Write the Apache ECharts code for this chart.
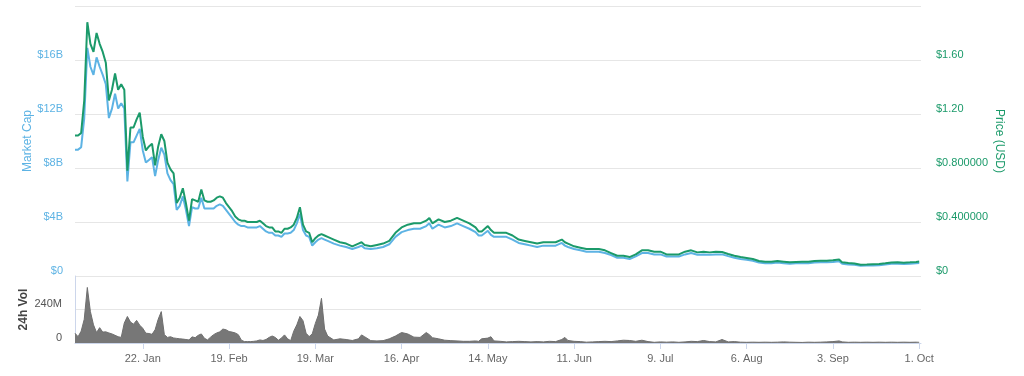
<!DOCTYPE html>
<html>
<head>
<meta charset="utf-8">
<script src="https://cdn.jsdelivr.net/npm/echarts@6/dist/echarts.min.js"></script>
<style>
  html, body { margin: 0; padding: 0; background: #fff; }
  #chart { width: 1024px; height: 376px; }
</style>
</head>
<body>
<div id="chart"></div>
<script>
// dates of the samples (daily at first, then every other day)
const dates = [
  '2017-12-31','2018-01-01','2018-01-02','2018-01-03','2018-01-04','2018-01-05','2018-01-06','2018-01-07','2018-01-08','2018-01-09','2018-01-10','2018-01-11','2018-01-12','2018-01-13','2018-01-14','2018-01-15','2018-01-16','2018-01-17','2018-01-18','2018-01-19','2018-01-20','2018-01-21','2018-01-22','2018-01-23','2018-01-24','2018-01-25','2018-01-26','2018-01-27','2018-01-28','2018-01-29','2018-01-30','2018-01-31',
  '2018-02-01','2018-02-02','2018-02-03','2018-02-04','2018-02-05','2018-02-06','2018-02-07','2018-02-08','2018-02-09','2018-02-10','2018-02-11','2018-02-12','2018-02-13','2018-02-14','2018-02-15','2018-02-16','2018-02-17','2018-02-18','2018-02-19','2018-02-20','2018-02-21','2018-02-22','2018-02-23','2018-02-24','2018-02-25','2018-02-26','2018-02-27','2018-02-28',
  '2018-03-01','2018-03-02','2018-03-03','2018-03-04','2018-03-05','2018-03-06','2018-03-07','2018-03-08','2018-03-09','2018-03-10','2018-03-11','2018-03-12','2018-03-13','2018-03-14','2018-03-15','2018-03-16','2018-03-17','2018-03-18','2018-03-19','2018-03-20','2018-03-21','2018-03-22','2018-03-23','2018-03-25','2018-03-27','2018-03-29','2018-03-31',
  '2018-04-02','2018-04-03','2018-04-04','2018-04-06','2018-04-08','2018-04-10','2018-04-12','2018-04-14','2018-04-16','2018-04-18','2018-04-20','2018-04-22','2018-04-24','2018-04-25','2018-04-26','2018-04-28','2018-04-30',
  '2018-05-02','2018-05-04','2018-05-06','2018-05-08','2018-05-10','2018-05-11','2018-05-12','2018-05-14','2018-05-15','2018-05-16','2018-05-18','2018-05-20','2018-05-22','2018-05-24','2018-05-26','2018-05-28','2018-05-30',
  '2018-06-01','2018-06-03','2018-06-05','2018-06-07','2018-06-08','2018-06-09','2018-06-11','2018-06-13','2018-06-15','2018-06-17','2018-06-19','2018-06-21','2018-06-23','2018-06-25','2018-06-27','2018-06-29',
  '2018-07-01','2018-07-03','2018-07-05','2018-07-07','2018-07-09','2018-07-11','2018-07-13','2018-07-15','2018-07-17','2018-07-19','2018-07-21','2018-07-23','2018-07-25','2018-07-27','2018-07-29','2018-07-31',
  '2018-08-02','2018-08-04','2018-08-06','2018-08-08','2018-08-10','2018-08-12','2018-08-14','2018-08-16','2018-08-18','2018-08-20','2018-08-22','2018-08-24','2018-08-26','2018-08-28','2018-08-30',
  '2018-09-01','2018-09-03','2018-09-05','2018-09-06','2018-09-08','2018-09-10','2018-09-12','2018-09-14','2018-09-16','2018-09-18','2018-09-20','2018-09-22','2018-09-24','2018-09-26','2018-09-28','2018-09-30',
  '2018-10-01'
];

// price in USD
const price = [
  1.04,1.04,1.06,1.30,1.88,1.72,1.66,1.80,1.72,1.66,1.58,1.30,1.38,1.50,1.38,1.42,1.38,0.78,1.10,1.10,1.16,1.21,1.03,0.93,0.96,0.98,0.82,0.96,1.05,1.00,0.84,0.79,
  0.76,0.54,0.58,0.65,0.54,0.41,0.57,0.56,0.55,0.64,0.56,0.55,0.55,0.56,0.58,0.59,0.58,0.54,0.51,0.48,0.44,0.42,0.41,0.41,0.40,0.40,0.40,0.40,
  0.41,0.39,0.37,0.36,0.36,0.33,0.33,0.32,0.35,0.35,0.36,0.38,0.43,0.51,0.38,0.33,0.32,0.25,0.28,0.30,0.31,0.30,0.29,0.27,0.25,0.24,0.22,
  0.24,0.25,0.23,0.22,0.23,0.24,0.26,0.32,0.36,0.38,0.39,0.39,0.41,0.43,0.39,0.42,0.40,
  0.41,0.43,0.41,0.39,0.36,0.33,0.33,0.37,0.34,0.32,0.32,0.32,0.30,0.27,0.26,0.25,0.24,
  0.25,0.25,0.25,0.27,0.25,0.24,0.22,0.21,0.20,0.20,0.20,0.19,0.17,0.15,0.15,0.14,
  0.16,0.19,0.19,0.18,0.18,0.16,0.16,0.16,0.18,0.19,0.175,0.18,0.175,0.18,0.178,0.163,
  0.15,0.14,0.133,0.126,0.111,0.106,0.106,0.111,0.106,0.101,0.104,0.106,0.106,0.111,0.113,
  0.113,0.116,0.122,0.101,0.096,0.093,0.084,0.085,0.087,0.089,0.094,0.100,0.101,0.099,0.101,0.104,
  0.107
];

// market cap in billions USD
const marketCap = [
  9.36,9.36,9.54,11.7,16.9,15.5,14.9,16.2,15.5,14.9,14.2,11.7,12.4,13.5,12.4,12.8,12.4,7.0,9.9,9.9,10.4,10.9,9.3,8.4,8.6,8.8,7.4,8.6,9.5,9.0,7.6,7.1,
  6.8,4.9,5.2,5.9,4.9,3.7,5.1,5.0,5.0,5.8,5.0,5.0,5.0,5.0,5.2,5.3,5.2,4.9,4.6,4.3,4.0,3.8,3.7,3.7,3.6,3.6,3.6,3.6,
  3.7,3.5,3.3,3.2,3.2,3.0,3.0,2.9,3.15,3.15,3.2,3.4,3.9,4.6,3.4,3.0,2.9,2.25,2.5,2.7,2.8,2.7,2.6,2.4,2.25,2.15,2.0,
  2.15,2.25,2.05,2.0,2.05,2.15,2.35,2.9,3.25,3.4,3.5,3.5,3.7,3.9,3.5,3.8,3.6,
  3.7,3.9,3.7,3.5,3.25,3.0,3.0,3.35,3.05,2.9,2.9,2.9,2.7,2.45,2.35,2.25,2.15,
  2.25,2.25,2.25,2.45,2.25,2.15,2.0,1.9,1.8,1.8,1.8,1.7,1.55,1.35,1.35,1.25,
  1.45,1.7,1.7,1.6,1.6,1.45,1.45,1.45,1.6,1.7,1.58,1.6,1.58,1.6,1.6,1.47,
  1.35,1.26,1.2,1.13,1.0,0.95,0.95,1.0,0.95,0.91,0.94,0.95,0.95,1.0,1.02,
  1.02,1.04,1.1,0.91,0.86,0.84,0.76,0.77,0.78,0.8,0.85,0.9,0.91,0.89,0.91,0.94,
  0.96
];

// 24h volume in millions USD
const volume = [
  70,45,85,170,398,225,130,75,110,78,80,72,65,55,45,40,143,190,150,135,162,128,105,70,68,62,95,170,225,60,40,45,
  36,33,30,28,25,22,44,38,55,65,34,22,42,60,72,80,100,95,82,78,72,60,20,10,10,10,12,15,
  22,18,25,40,50,40,20,35,58,30,17,85,130,190,160,70,46,65,140,200,320,100,50,22,30,25,18,
  30,58,45,17,15,17,30,50,75,65,42,40,75,60,38,30,20,
  17,15,12,12,15,12,30,35,45,15,12,8,10,12,10,8,10,
  8,12,10,25,40,18,12,10,6,8,10,12,10,15,20,18,
  12,20,10,5,8,6,8,5,8,12,10,18,10,8,25,8,
  10,6,5,6,5,6,5,6,8,6,5,4,6,5,6,
  8,10,15,8,5,6,5,6,5,6,5,6,5,6,5,6,
  5
];

// x axis ticks
const tickDates = ['2018-01-22','2018-02-19','2018-03-19','2018-04-16','2018-05-14','2018-06-11','2018-07-09','2018-08-06','2018-09-03','2018-10-01'];
const tickLabels = ['22. Jan','19. Feb','19. Mar','16. Apr','14. May','11. Jun','9. Jul','6. Aug','3. Sep','1. Oct'];

// y axis tick labels
const capTicks = [0, 4, 8, 12, 16];
const capTickLabels = ['$0', '$4B', '$8B', '$12B', '$16B'];
const priceTicks = [0, 0.4, 0.8, 1.2, 1.6];
const priceTickLabels = ['$0', '$0.400000', '$0.800000', '$1.20', '$1.60'];
const volTicks = [0, 240];
const volTickLabels = ['0', '240M'];

const toTime = (s) => {
  const p = s.split('-').map(Number);
  return Date.UTC(p[0], p[1] - 1, p[2]);
};
const tickTimes = tickDates.map(toTime);
const xMin = toTime('2017-12-31');
const xMax = toTime('2018-10-01') + 14 * 3600 * 1000;

const pick = (ticks, labels) => (v) => {
  const i = ticks.findIndex(t => Math.abs(t - v) < 1e-6);
  return i >= 0 ? labels[i] : '';
};

const font = 'Liberation Sans, Arial, sans-serif';
const capColor = '#5db3e4';
const priceColor = '#1b9a6a';

const myChart = echarts.init(document.getElementById('chart'));
const option = {
  animation: false,
  textStyle: { fontFamily: font },
  grid: [
    { left: 75, right: 103, top: 6, height: 270 },
    { left: 75, right: 103, top: 276, height: 67 },
  ],
  xAxis: [
    {
      type: 'value', gridIndex: 0, min: xMin, max: xMax,
      axisLine: { show: false }, axisTick: { show: false },
      axisLabel: { show: false }, splitLine: { show: false },
    },
    {
      type: 'value', gridIndex: 1, min: xMin, max: xMax,
      axisLine: { lineStyle: { color: '#ccd6eb' } },
      axisTick: { customValues: tickTimes, length: 6, lineStyle: { color: '#ccd6eb' } },
      axisLabel: {
        customValues: tickTimes,
        formatter: pick(tickTimes, tickLabels),
        color: '#666', fontSize: 11, margin: 10, fontFamily: font,
      },
      splitLine: { show: false },
    },
  ],
  yAxis: [
    {
      type: 'value', gridIndex: 0, position: 'left',
      min: 0, max: 20, interval: 4,
      name: 'Market Cap', nameLocation: 'middle', nameRotate: 90, nameGap: 41,
      nameMoveOverlap: false,
      nameTextStyle: { color: capColor, fontSize: 12, fontFamily: font },
      axisLine: { show: false }, axisTick: { show: false },
      axisLabel: {
        formatter: pick(capTicks, capTickLabels), showMaxLabel: false,
        color: capColor, fontSize: 11, margin: 12, verticalAlign: 'bottom', fontFamily: font,
      },
      splitLine: { lineStyle: { color: '#e6e6e6' } },
    },
    {
      type: 'value', gridIndex: 0, position: 'right',
      min: 0, max: 2, interval: 0.4,
      name: 'Price (USD)', nameLocation: 'middle', nameRotate: -90, nameGap: 72,
      nameMoveOverlap: false,
      nameTextStyle: { color: priceColor, fontSize: 12, fontFamily: font },
      axisLine: { show: false }, axisTick: { show: false },
      axisLabel: {
        formatter: pick(priceTicks, priceTickLabels), showMaxLabel: false,
        color: priceColor, fontSize: 11, margin: 15, verticalAlign: 'bottom', fontFamily: font,
      },
      splitLine: { show: false },
    },
    {
      type: 'value', gridIndex: 1, position: 'left',
      min: 0, max: 480, interval: 240,
      name: '24h Vol', nameLocation: 'middle', nameRotate: 90, nameGap: 45,
      nameMoveOverlap: false,
      nameTextStyle: { color: '#444', fontSize: 12, fontWeight: 'bold', fontFamily: font },
      axisLine: { show: true, lineStyle: { color: '#ccd6eb' } }, axisTick: { show: false },
      axisLabel: {
        formatter: pick(volTicks, volTickLabels), showMaxLabel: false,
        color: '#555', fontSize: 11, margin: 13, verticalAlign: 'bottom', fontFamily: font,
      },
      splitLine: { lineStyle: { color: '#e6e6e6' } },
    },
  ],
  series: [
    {
      name: 'Market Cap', type: 'line', xAxisIndex: 0, yAxisIndex: 0,
      data: dates.map((d, i) => [toTime(d), marketCap[i]]),
      showSymbol: false, z: 2,
      lineStyle: { color: capColor, width: 2 }, itemStyle: { color: capColor },
    },
    {
      name: 'Price', type: 'line', xAxisIndex: 0, yAxisIndex: 1,
      data: dates.map((d, i) => [toTime(d), price[i]]),
      showSymbol: false, z: 3,
      lineStyle: { color: priceColor, width: 2 }, itemStyle: { color: priceColor },
    },
    {
      name: '24h Vol', type: 'line', xAxisIndex: 1, yAxisIndex: 2,
      data: dates.map((d, i) => [toTime(d), volume[i]]),
      showSymbol: false,
      lineStyle: { color: '#6f6f6f', width: 1 },
      areaStyle: { color: '#777777', opacity: 1 },
      itemStyle: { color: '#6f6f6f' },
    },
  ],
};
myChart.setOption(option);
window.addEventListener('resize', () => myChart.resize());
</script>
</body>
</html>
